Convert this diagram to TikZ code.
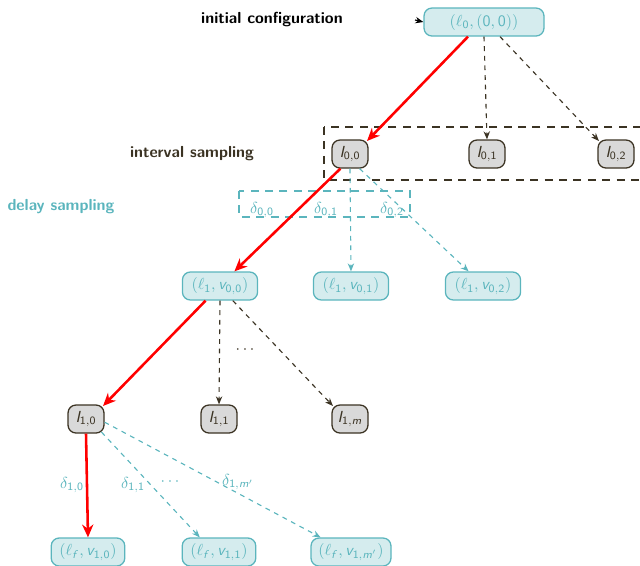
\documentclass[tikz,border=0pt]{standalone}
\usetikzlibrary{arrows.meta}
\DeclareMathAlphabet{\mathsfit}{OT1}{cmss}{m}{sl}
\DeclareMathAlphabet{\mathsfup}{OT1}{cmss}{m}{n}
\newcommand{\ivl}[1]{\mathsfit{I}_{\mathsfup{#1}}}
\newcommand{\val}[1]{\mathsfit{v}_{\mathsfup{#1}}}
\newcommand{\dly}[1]{\delta_{\mathsfup{#1}}}
\definecolor{tealc}{HTML}{5BB5BD}
\definecolor{tealfill}{HTML}{D5ECEE}
\definecolor{darkc}{HTML}{3B3323}
\definecolor{grayfill}{HTML}{D9D9D9}
\begin{document}
\begin{tikzpicture}[x=0.625pt,y=-0.625pt, font=\sffamily,
  conf/.style={draw=tealc, fill=tealfill, text=tealc, rounded corners=5pt, line width=0.8pt, minimum height=17.5pt, inner sep=2pt},
  intv/.style={draw=darkc, fill=grayfill, text=darkc, rounded corners=5pt, line width=0.8pt, minimum height=17.5pt, minimum width=22.5pt, inner sep=2pt},
  redarr/.style={draw=red, line width=1.6pt, -{Stealth[length=8pt,width=7pt]}},
  darkarr/.style={draw=darkc, dashed, line width=0.7pt, -{Stealth[length=5pt,width=4pt]}},
  tealarr/.style={draw=tealc, dashed, line width=0.7pt, -{Stealth[length=5pt,width=4pt]}},
  lbl/.style={text=tealc, inner sep=1pt},
  groupbox/.style={line width=1pt, dash pattern=on 5pt off 4pt},
]
\useasboundingbox (0,0) rectangle (640,565);
\clip (0,0) rectangle (640,565);

% row labels
\node[font=\sffamily\bfseries, text=black] (tinit) at (272,20) {initial configuration};
\node[font=\sffamily\bfseries, text=darkc] (tint) at (192,154) {interval sampling};
\node[font=\sffamily\bfseries, text=tealc] (tdel) at (61,207) {delay sampling};

% group boxes
\draw[groupbox, draw=darkc] (324,127) rectangle (660,180);
\draw[groupbox, draw=tealc] (239,191) rectangle (410,217);

% configurations
\node[conf, minimum width=75pt] (root) at (484,22) {$(\ell_{\mathsfup{0}},(\mathsfup{0},\mathsfup{0}))$};
\node[conf, minimum width=47pt] (c00) at (220,286) {$(\ell_{\mathsfup{1}},\val{0,0})$};
\node[conf, minimum width=47pt] (c01) at (351,286) {$(\ell_{\mathsfup{1}},\val{0,1})$};
\node[conf, minimum width=47pt] (c02) at (483,286) {$(\ell_{\mathsfup{1}},\val{0,2})$};
\node[conf, minimum width=46pt] (f0) at (88,552) {$(\ell_{\mathsfit{f}},\val{1,0})$};
\node[conf, minimum width=46pt] (f1) at (219,552) {$(\ell_{\mathsfit{f}},\val{1,1})$};
\node[conf, minimum width=50pt] (fm) at (351,552) {$(\ell_{\mathsfit{f}},\mathsfit{v}_{\mathsfup{1},\mathsfit{m}'})$};

% intervals
\node[intv] (i00) at (350,154) {$\ivl{0,0}$};
\node[intv] (i01) at (487,154) {$\ivl{0,1}$};
\node[intv] (i02) at (616,154) {$\ivl{0,2}$};
\node[intv] (i10) at (86,419) {$\ivl{1,0}$};
\node[intv] (i11) at (219,419) {$\ivl{1,1}$};
\node[intv] (i1m) at (350,419) {$\mathsfit{I}_{\mathsfup{1},\mathsfit{m}}$};

% initial arrow
\coordinate (start) at (415,20);
\draw[-{Stealth[length=5pt,width=4pt]}, line width=0.7pt] (start) -- (root.west);

% root to intervals
\draw[redarr] ([xshift=-10pt]root.south) -- ([xshift=-1pt,yshift=-1pt]i00.north east);
\draw[darkarr] (root.south) -- (i01.north);
\draw[darkarr] ([xshift=10pt]root.south) -- ([xshift=1pt,yshift=-1pt]i02.north west);

% delay sampling from I_{0,0}
\draw[redarr] ([xshift=-6pt]i00.south) -- ([xshift=9pt]c00.north);
\draw[tealarr] (i00.south) -- (c01.north);
\draw[tealarr] ([xshift=6pt]i00.south) -- ([xshift=-9pt]c02.north);
\node[lbl] (d00) at (262,210) {$\dly{0,0}$};
\node[lbl] (d01) at (326,210) {$\dly{0,1}$};
\node[lbl] (d02) at (392,210) {$\dly{0,2}$};

% interval sampling from (l1, v00)
\draw[redarr] ([xshift=-9pt]c00.south) -- ([xshift=-1pt,yshift=-1pt]i10.north east);
\draw[darkarr] (c00.south) -- (i11.north);
\draw[darkarr] ([xshift=8pt]c00.south) -- ([xshift=1pt,yshift=-1pt]i1m.north west);
\node[text=darkc] (dots1) at (245,350) {$\cdots$};

% delay sampling from I_{1,0}
\draw[redarr] (i10.south) -- (f0.north);
\draw[tealarr] ([xshift=-2pt,yshift=1pt]i10.south east) -- ([xshift=-12pt]f1.north);
\draw[tealarr] ([yshift=-2pt]i10.east) -- ([xshift=-19pt]fm.north);
\node[lbl] (d10) at (72,485) {$\dly{1,0}$};
\node[lbl] (d11) at (133,485) {$\dly{1,1}$};
\node[lbl] (d1m) at (238,482) {$\delta_{\mathsfup{1},\mathsfit{m}'}$};
\node[text=tealc] (dots2) at (170,482) {$\cdots$};
\end{tikzpicture}
\end{document}
